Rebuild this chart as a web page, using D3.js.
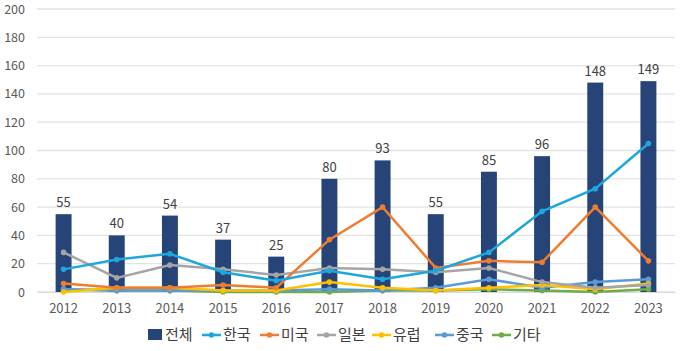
<!DOCTYPE html>
<html>
<head>
<meta charset="utf-8">
<script src="https://cdn.jsdelivr.net/npm/d3@7"></script>
<style>
  body { margin: 0; background: #fff; }
  svg text { font-family: "Noto Sans CJK KR", "Noto Sans", sans-serif; }
</style>
</head>
<body>
<div class="chart"></div>
<script>
// data
var years = ["2012","2013","2014","2015","2016","2017","2018","2019","2020","2021","2022","2023"];
var total = [55, 40, 54, 37, 25, 80, 93, 55, 85, 96, 148, 149];
var korea  = [16, 23, 27, 14, 8, 15, 9, 15, 28, 57, 73, 105];
var usa    = [6, 3, 3, 5, 3, 37, 60, 17, 22, 21, 60, 22];
var japan  = [28, 10, 19, 16, 12, 17, 16, 14, 17, 7, 3, 5];
var europe = [0, 3, 3, 1, 1, 7, 3, 1, 3, 5, 2, 6];
var china  = [2, 1, 1, 1, 1, 2, 1, 3, 9, 3, 7, 9];
var other  = [2, 1, 1, 0, 0, 0, 1, 1, 2, 1, 0, 2];
var yTicks = [0, 20, 40, 60, 80, 100, 120, 140, 160, 180, 200];

var series = [
  {name: "한국", values: korea,  color: "#1ea7df"},
  {name: "미국", values: usa,    color: "#ed7d31"},
  {name: "일본", values: japan,  color: "#a5a5a5"},
  {name: "유럽", values: europe, color: "#ffc000"},
  {name: "중국", values: china,  color: "#5b9bd5"},
  {name: "기타", values: other,  color: "#70ad47"}
];

// set the dimensions and margins of the graph
var margin = {top: 9, right: 5, bottom: 59, left: 37},
    width = 680 - margin.left - margin.right,
    height = 351 - margin.top - margin.bottom;

var x = d3.scaleBand().domain(years).range([0, width]).paddingInner(0.7).paddingOuter(0.35);
var y = d3.scaleLinear().domain([0, 200]).range([height, 0]);

var svg = d3.select(".chart").append("svg")
    .attr("width", 680)
    .attr("height", 351);
var chart = svg.append("g")
    .attr("transform", "translate(" + margin.left + "," + margin.top + ")");

// gridlines
chart.selectAll(".grid").data(yTicks).enter().append("line")
    .attr("x1", 0).attr("x2", width)
    .attr("y1", function(d) { return y(d); })
    .attr("y2", function(d) { return y(d); })
    .style("stroke", "#e3e3e3")
    .style("stroke-width", 1.3);

// y axis
var yAxis = chart.append("g")
    .call(d3.axisLeft(y).tickValues(yTicks).tickSize(0).tickPadding(12));
yAxis.select(".domain").remove();
yAxis.selectAll("text").style("font-size", "12.5px").style("fill", "#595959");

// x axis
var xAxis = chart.append("g")
    .attr("transform", "translate(0," + height + ")")
    .call(d3.axisBottom(x).tickSize(0).tickPadding(12));
xAxis.select(".domain").style("stroke", "#d9d9d9");
xAxis.selectAll("text").style("font-size", "13px").style("fill", "#595959");

// bars
chart.selectAll(".bar").data(total).enter().append("rect")
    .attr("x", function(d, i) { return x(years[i]); })
    .attr("y", function(d) { return y(d); })
    .attr("width", x.bandwidth())
    .attr("height", function(d) { return height - y(d); })
    .style("fill", "#264478");

chart.selectAll(".barlabel").data(total).enter().append("text")
    .attr("x", function(d, i) { return x(years[i]) + x.bandwidth() / 2; })
    .attr("y", function(d) { return y(d) - 7; })
    .attr("text-anchor", "middle")
    .style("font-size", "13px")
    .style("fill", "#404040")
    .text(function(d) { return d; });

// lines
var line = d3.line()
    .x(function(d, i) { return x(years[i]) + x.bandwidth() / 2; })
    .y(function(d) { return y(d); });

series.slice().reverse().forEach(function(s) {
  chart.append("path")
      .datum(s.values)
      .attr("d", line)
      .style("fill", "none")
      .style("stroke", s.color)
      .style("stroke-width", 2.5);
  chart.selectAll(null).data(s.values).enter().append("circle")
      .attr("cx", function(d, i) { return x(years[i]) + x.bandwidth() / 2; })
      .attr("cy", function(d) { return y(d); })
      .attr("r", 2.8)
      .style("fill", s.color);
});

// legend
var legend = svg.append("g").attr("transform", "translate(0,335)");
legend.append("rect")
    .attr("x", 148).attr("y", -6).attr("width", 14).attr("height", 11)
    .style("fill", "#264478");
legend.append("text")
    .attr("x", 165).attr("y", 0).attr("dy", "0.35em")
    .style("font-size", "15px").style("fill", "#404040")
    .text("전체");

var legendX = [202, 260, 317, 372, 435, 492];
series.forEach(function(s, i) {
  var g = legend.append("g").attr("transform", "translate(" + legendX[i] + ",0)");
  g.append("line").attr("x1", 0).attr("x2", 19).attr("y1", 0).attr("y2", 0)
      .style("stroke", s.color).style("stroke-width", 2.5);
  g.append("circle").attr("cx", 9.5).attr("cy", 0).attr("r", 2.8).style("fill", s.color);
  g.append("text").attr("x", 21).attr("y", 0).attr("dy", "0.35em")
      .style("font-size", "15px").style("fill", "#404040")
      .text(s.name);
});
</script>
</body>
</html>
